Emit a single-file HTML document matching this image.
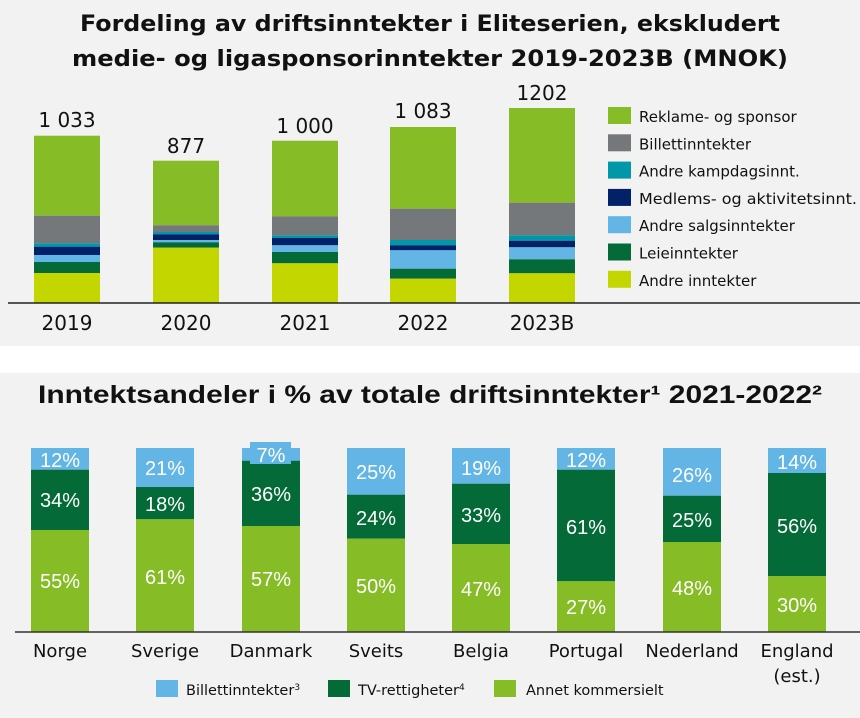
<!DOCTYPE html>
<html><head><meta charset="utf-8"><style>
html,body{margin:0;padding:0;background:#f2f2f2;}
svg{display:block;}
</style></head><body>
<svg width="860" height="718" viewBox="0 0 860 718" xmlns="http://www.w3.org/2000/svg" font-family="DejaVu Sans, Liberation Sans, sans-serif">
<rect x="0" y="0" width="860" height="718" fill="#f2f2f2"/>
<rect x="0" y="346" width="860" height="27" fill="#ffffff"/>
<g font-weight="bold" font-size="22" fill="#111" text-anchor="middle">
<text x="430" y="31" textLength="700" lengthAdjust="spacingAndGlyphs">Fordeling av driftsinntekter i Eliteserien, ekskludert</text>
<text x="430" y="66" textLength="716" lengthAdjust="spacingAndGlyphs">medie- og ligasponsorinntekter 2019-2023B (MNOK)</text>
</g>
<text x="430" y="403" font-family="Liberation Sans, sans-serif" font-weight="bold" font-size="25" fill="#111" text-anchor="middle" textLength="784" lengthAdjust="spacingAndGlyphs">Inntektsandeler i % av totale driftsinntekter¹ 2021-2022²</text>

<g>
<rect x="34" y="135.7" width="66" height="80" fill="#86bc25"/>
<rect x="34" y="215.7" width="66" height="27.6" fill="#75787b"/>
<rect x="34" y="243.3" width="66" height="3.4" fill="#0097a9"/>
<rect x="34" y="246.7" width="66" height="8.3" fill="#012169"/>
<rect x="34" y="255" width="66" height="7" fill="#62b5e5"/>
<rect x="34" y="262" width="66" height="11" fill="#046a38"/>
<rect x="34" y="273" width="66" height="30" fill="#c4d600"/>
<rect x="153" y="160.7" width="66" height="64.6" fill="#86bc25"/>
<rect x="153" y="225.3" width="66" height="6.7" fill="#75787b"/>
<rect x="153" y="232" width="66" height="2.3" fill="#0097a9"/>
<rect x="153" y="234.3" width="66" height="5.7" fill="#012169"/>
<rect x="153" y="240" width="66" height="2.3" fill="#62b5e5"/>
<rect x="153" y="242.3" width="66" height="5.4" fill="#046a38"/>
<rect x="153" y="247.7" width="66" height="55.3" fill="#c4d600"/>
<rect x="272" y="140.7" width="66" height="75.6" fill="#86bc25"/>
<rect x="272" y="216.3" width="66" height="19" fill="#75787b"/>
<rect x="272" y="235.3" width="66" height="2.7" fill="#0097a9"/>
<rect x="272" y="238" width="66" height="7.3" fill="#012169"/>
<rect x="272" y="245.3" width="66" height="6.7" fill="#62b5e5"/>
<rect x="272" y="252" width="66" height="11.3" fill="#046a38"/>
<rect x="272" y="263.3" width="66" height="39.7" fill="#c4d600"/>
<rect x="390" y="127" width="66" height="81.7" fill="#86bc25"/>
<rect x="390" y="208.7" width="66" height="31.3" fill="#75787b"/>
<rect x="390" y="240" width="66" height="5.3" fill="#0097a9"/>
<rect x="390" y="245.3" width="66" height="5" fill="#012169"/>
<rect x="390" y="250.3" width="66" height="18.4" fill="#62b5e5"/>
<rect x="390" y="268.7" width="66" height="10" fill="#046a38"/>
<rect x="390" y="278.7" width="66" height="24.3" fill="#c4d600"/>
<rect x="509" y="108" width="66" height="94.7" fill="#86bc25"/>
<rect x="509" y="202.7" width="66" height="32.6" fill="#75787b"/>
<rect x="509" y="235.3" width="66" height="5.4" fill="#0097a9"/>
<rect x="509" y="240.7" width="66" height="6.6" fill="#012169"/>
<rect x="509" y="247.3" width="66" height="12" fill="#62b5e5"/>
<rect x="509" y="259.3" width="66" height="14" fill="#046a38"/>
<rect x="509" y="273.3" width="66" height="29.7" fill="#c4d600"/>
</g>
<line x1="8" y1="303" x2="860" y2="303" stroke="#222" stroke-width="1.5"/>
<g font-size="20" fill="#111" text-anchor="middle">
<text x="67" y="127">1 033</text>
<text x="186" y="153">877</text>
<text x="305" y="133">1 000</text>
<text x="423" y="118">1 083</text>
<text x="542" y="100">1202</text>
<text x="67" y="330">2019</text>
<text x="186" y="330">2020</text>
<text x="305" y="330">2021</text>
<text x="423" y="330">2022</text>
<text x="542" y="330">2023B</text>
</g>
<g font-size="15" fill="#111">
<rect x="608" y="107" width="23" height="17" fill="#86bc25"/><text x="639" y="122">Reklame- og sponsor</text>
<rect x="608" y="134.3" width="23" height="17" fill="#75787b"/><text x="639" y="149.3">Billettinntekter</text>
<rect x="608" y="161.6" width="23" height="17" fill="#0097a9"/><text x="639" y="176.6">Andre kampdagsinnt.</text>
<rect x="608" y="188.9" width="23" height="17" fill="#012169"/><text x="639" y="203.9" textLength="218" lengthAdjust="spacingAndGlyphs">Medlems- og aktivitetsinnt.</text>
<rect x="608" y="216.2" width="23" height="17" fill="#62b5e5"/><text x="639" y="231.2">Andre salgsinntekter</text>
<rect x="608" y="243.5" width="23" height="17" fill="#046a38"/><text x="639" y="258.5">Leieinntekter</text>
<rect x="608" y="270.8" width="23" height="17" fill="#c4d600"/><text x="639" y="285.8">Andre inntekter</text>
</g>

<g>
<rect x="31" y="448" width="58" height="21.7" fill="#62b5e5"/><rect x="31" y="469.7" width="58" height="60.3" fill="#046a38"/><rect x="31" y="530" width="58" height="102" fill="#86bc25"/>
<rect x="136" y="448" width="58" height="39" fill="#62b5e5"/><rect x="136" y="487" width="58" height="32.3" fill="#046a38"/><rect x="136" y="519.3" width="58" height="112.7" fill="#86bc25"/>
<rect x="242" y="448" width="58" height="12.7" fill="#62b5e5"/><rect x="242" y="460.7" width="58" height="65.3" fill="#046a38"/><rect x="242" y="526" width="58" height="106" fill="#86bc25"/>
<rect x="250" y="442" width="41" height="22" fill="#62b5e5"/>
<rect x="347" y="448" width="58" height="46.7" fill="#62b5e5"/><rect x="347" y="494.7" width="58" height="44" fill="#046a38"/><rect x="347" y="538.7" width="58" height="93.3" fill="#86bc25"/>
<rect x="452" y="448" width="58" height="35.7" fill="#62b5e5"/><rect x="452" y="483.7" width="58" height="60.3" fill="#046a38"/><rect x="452" y="544" width="58" height="88" fill="#86bc25"/>
<rect x="557" y="448" width="58" height="21.7" fill="#62b5e5"/><rect x="557" y="469.7" width="58" height="111.6" fill="#046a38"/><rect x="557" y="581.3" width="58" height="50.7" fill="#86bc25"/>
<rect x="663" y="448" width="58" height="47.7" fill="#62b5e5"/><rect x="663" y="495.7" width="58" height="46.3" fill="#046a38"/><rect x="663" y="542" width="58" height="90" fill="#86bc25"/>
<rect x="768" y="448" width="58" height="25" fill="#62b5e5"/><rect x="768" y="473" width="58" height="103" fill="#046a38"/><rect x="768" y="576" width="58" height="56" fill="#86bc25"/>
</g>
<line x1="15" y1="632" x2="860" y2="632" stroke="#333" stroke-width="1.5"/>
<g font-size="20" fill="#fff" text-anchor="middle" font-family="Liberation Sans, sans-serif">
<text x="60" y="467">12%</text><text x="60" y="507">34%</text><text x="60" y="588">55%</text>
<text x="165" y="475">21%</text><text x="165" y="511">18%</text><text x="165" y="584">61%</text>
<text x="271" y="462">7%</text><text x="271" y="501">36%</text><text x="271" y="586">57%</text>
<text x="376" y="479">25%</text><text x="376" y="525">24%</text><text x="376" y="593">50%</text>
<text x="481" y="475">19%</text><text x="481" y="522">33%</text><text x="481" y="596">47%</text>
<text x="586" y="467">12%</text><text x="586" y="534">61%</text><text x="586" y="614">27%</text>
<text x="692" y="482">26%</text><text x="692" y="527">25%</text><text x="692" y="595">48%</text>
<text x="797" y="469">14%</text><text x="797" y="533">56%</text><text x="797" y="612">30%</text>
</g>
<g font-size="18" fill="#111" text-anchor="middle">
<text x="60" y="657">Norge</text>
<text x="165" y="657">Sverige</text>
<text x="271" y="657">Danmark</text>
<text x="376" y="657">Sveits</text>
<text x="481" y="657">Belgia</text>
<text x="586" y="657">Portugal</text>
<text x="692" y="657">Nederland</text>
<text x="797" y="657">England</text>
<text x="797" y="682">(est.)</text>
</g>
<g font-size="14.5" fill="#111">
<rect x="156" y="680" width="22" height="17" fill="#62b5e5"/><text x="186" y="695">Billettinntekter<tspan font-size="9" dy="-5">3</tspan></text>
<rect x="328" y="680" width="22" height="17" fill="#046a38"/><text x="358" y="695">TV-rettigheter<tspan font-size="9" dy="-5">4</tspan></text>
<rect x="494" y="680" width="22" height="17" fill="#86bc25"/><text x="526" y="695">Annet kommersielt</text>
</g>
</svg>
</body></html>
